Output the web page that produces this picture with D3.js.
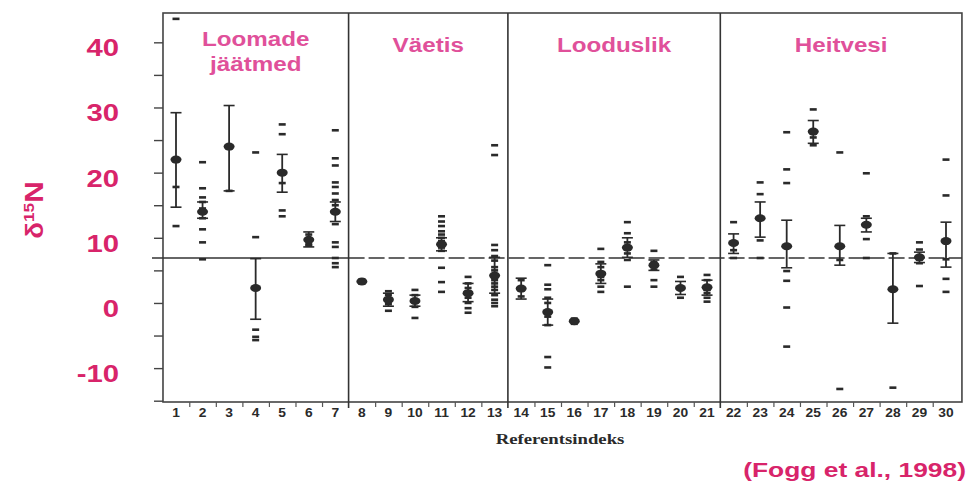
<!DOCTYPE html>
<html>
<head>
<meta charset="utf-8">
<script src="https://cdn.jsdelivr.net/npm/d3@7"></script>
<style>
  body { margin: 0; background: #fff; }
</style>
</head>
<body>
<svg id="chart" width="968" height="481"></svg>
<script>
// reference index 1..30
const indices = d3.range(1, 31);

const groupNames = [["Loomade", "jäätmed"], ["Väetis"], ["Looduslik"], ["Heitvesi"]];
const groupBreaks = [7.5, 13.5, 21.5];

const yTickLabels = [-10, 0, 10, 20, 30, 40];
const refValue = 6.9;

// mean δ15N per index
const means = [22, 14, 24, 2.3, 20, 9.7, 14, 3.3, 0.5, 0.3,
               9, 1.5, 4.2, 2.2, -1.4, -2.8, 4.5, 8.5, 5.8, 2.3,
               2.4, 9.2, 13, 8.7, 26.3, 8.7, 12, 2.1, 7, 9.5];

// error bar ends (null = no bar drawn)
const errLow  = [14.7, 13, 17.2, -2.5, 17, 8.6, 12.5, null, -0.5, -0.5,
                 8, 0.2, 1.5, 0.6, -3.4, null, 3, 7, 5, 1.3,
                 1.2, 7.6, 10.1, 5.4, 24.5, 5.8, 10.9, -3.1, 6.2, 5.5];
const errHigh = [29.2, 15.5, 30.3, 6.8, 22.8, 10.9, 15.5, null, 1.5, 1.2,
                 10, 3, 7, 3.8, 0.6, null, 6, 10, 6.6, 3.3,
                 3.5, 10.6, 15.5, 12.7, 28, 11.9, 13, 7.6, 7.8, 12.4];

// individual measurements per index
const points = [
  [43.6, 17.8, 11.8],
  [21.6, 17.6, 16.2, 15.5, 14.5, 13, 11.3, 9.3, 6.7],
  [17.2],
  [23.1, 10.1, -4.1, -5.2, -5.7],
  [27.4, 25.9, 18.4, 14.2, 13.3],
  [10.5, 9, 8.8],
  [26.5, 22.2, 21.1, 18.5, 17.8, 16.8, 15.8, 15, 12.1, 9.3, 8.6, 6.9, 6.1, 5.5],
  [3.6, 3],
  [1.8, 1.2, -0.2, -1.2],
  [2, 1.2, -0.6, -2.3],
  [13.3, 12.5, 11.8, 11, 10.5, 10, 9.5, 8.5, 8, 5.4, 3.2, 1.7],
  [4, 3, 2.3, 0.8, 0, -0.8, -1.5],
  [24.2, 22.7, 8.9, 8.1, 7.2, 6.5, 5.5, 5, 3.5, 3, 2.5, 2, 1.2, 0.5, 0, -0.5],
  [3.5, 1],
  [5.8, 2.8, 2.1, 0.8, 0, -2.1, -3.4, -8.3, -9.9],
  [-2.4, -3.2],
  [8.3, 6.3, 5.5, 4, 3.5, 2.5, 1.7],
  [12.4, 10.7, 9.3, 7.6, 6.6, 2.5],
  [8, 6.3, 5.1, 3.5, 2.5],
  [4, 0.8],
  [4.3, 3.5, 2, 1.5, 0.8, 0.2],
  [12.4, 8.1, 6.9],
  [18.5, 16.7, 9.6, 6.9],
  [26.2, 20.5, 18.4, 4.9, 3.4, -0.7, -6.7],
  [29.7, 25.4, 24.2],
  [23.1, 6.6, -13.2],
  [19.9, 13.3, 9.8, 6.9],
  [7.6, -13],
  [9.3, 8.2, 6.1, 2.6],
  [22, 16.5, 6.7, 3.7, 1.7]
];

const pink = "#d8246a";
const pinkLight = "#e0509a";
const ink = "#2a2a2a";

const svg = d3.select("#chart");

const x = d3.scaleLinear().domain([1, 30]).range([176, 946]);
const y = d3.scaleLinear().domain([-15.2, 44.5]).range([402, 13]);
const xMin = 0.51, xMax = 30.6;
const plotLeft = x(xMin), plotRight = x(xMax), plotTop = y(44.5), plotBottom = y(-15.2);

function wideText(g, px, py, str, sx) {
    return g.append("text")
        .attr("transform", `translate(${px},${py}) scale(${sx},1)`)
        .text(str);
}

// frame
svg.append("rect")
    .attr("x", plotLeft).attr("y", plotTop)
    .attr("width", plotRight - plotLeft).attr("height", plotBottom - plotTop)
    .attr("fill", "none").attr("stroke", "#444").attr("stroke-width", 1.6);

// y ticks
svg.append("g")
    .attr("transform", `translate(${plotLeft},0)`)
    .call(d3.axisLeft(y).tickValues(d3.range(-15, 45, 5)).tickSize(9).tickFormat(""))
    .call(g => g.select(".domain").remove())
    .selectAll("line").attr("stroke", "#444").attr("stroke-width", 1.4);

// y labels
const yLab = svg.append("g")
    .attr("fill", pink).attr("font-family", "Liberation Sans, Arial, sans-serif")
    .attr("font-weight", "bold").attr("font-size", 24).attr("text-anchor", "end");
yTickLabels.forEach(v => wideText(yLab, 119, y(v) + 14, String(v), 1.22));

// x minor ticks at half indices
const halfTicks = d3.range(1.5, 30, 1).filter(v => !groupBreaks.includes(v));
svg.append("g")
    .attr("transform", `translate(0,${plotBottom})`)
    .call(d3.axisBottom(x).tickValues(halfTicks).tickSize(5).tickFormat(""))
    .call(g => g.select(".domain").remove())
    .selectAll("line").attr("stroke", "#555").attr("stroke-width", 1.2);

// x labels
const xLab = svg.append("g")
    .attr("fill", ink).attr("font-family", "Liberation Sans, Arial, sans-serif")
    .attr("font-weight", "bold").attr("font-size", 12).attr("text-anchor", "middle");
indices.forEach(i => wideText(xLab, x(i), plotBottom + 15, String(i), 1.15));

// group dividers
svg.append("g").selectAll("line")
    .data(groupBreaks)
    .join("line")
    .attr("x1", d => x(d)).attr("x2", d => x(d))
    .attr("y1", plotTop).attr("y2", plotBottom + 6)
    .attr("stroke", "#333").attr("stroke-width", 1.6);

// reference line
svg.append("line")
    .attr("x1", plotLeft - 11).attr("x2", x(groupBreaks[0]))
    .attr("y1", y(refValue)).attr("y2", y(refValue))
    .attr("stroke", "#333").attr("stroke-width", 1.3);
svg.append("line")
    .attr("x1", x(groupBreaks[0])).attr("x2", plotRight)
    .attr("y1", y(refValue)).attr("y2", y(refValue))
    .attr("stroke", "#333").attr("stroke-width", 1.3)
    .attr("stroke-dasharray", "16,4");

// group titles
const spans = [xMin, ...groupBreaks, xMax];
const titles = svg.append("g")
    .attr("fill", pinkLight).attr("font-family", "Liberation Sans, Arial, sans-serif")
    .attr("font-weight", "bold").attr("font-size", 20).attr("text-anchor", "middle");
groupNames.forEach((lines, k) => {
    const cx = x((spans[k] + spans[k + 1]) / 2);
    const base = lines.length > 1 ? 46 : 52;
    lines.forEach((t, j) => wideText(titles, cx, base + j * 25, t, 1.21));
});

// marks
const marks = svg.append("g").attr("fill", ink).attr("stroke", ink);

indices.forEach((idx, k) => {
    const g = marks.append("g");
    const cx = x(idx);

    g.selectAll("rect")
        .data(points[k])
        .join("rect")
        .attr("x", cx - 3.5).attr("y", d => y(d) - 1.3)
        .attr("width", 7).attr("height", 2.6)
        .attr("stroke", "none");

    if (errLow[k] !== null) {
        g.append("line")
            .attr("x1", cx).attr("x2", cx)
            .attr("y1", y(errLow[k])).attr("y2", y(errHigh[k]))
            .attr("stroke-width", 1.8);
        g.selectAll("line.cap")
            .data([errLow[k], errHigh[k]])
            .join("line")
            .classed("cap", true)
            .attr("x1", cx - 5.5).attr("x2", cx + 5.5)
            .attr("y1", d => y(d)).attr("y2", d => y(d))
            .attr("stroke-width", 1.6);
    }

    g.append("ellipse")
        .attr("cx", cx).attr("cy", y(means[k]))
        .attr("rx", 5.5).attr("ry", 4)
        .attr("stroke", "none");
});

// y title
const yTitle = svg.append("text")
    .attr("transform", "translate(43,210) rotate(-90) scale(1.15,1)")
    .attr("fill", pink).attr("font-family", "Liberation Sans, Arial, sans-serif")
    .attr("text-anchor", "middle");
yTitle.append("tspan").attr("font-size", 24).attr("font-weight", "bold").text("δ");
yTitle.append("tspan").attr("font-size", 15).attr("font-weight", "bold").attr("dy", -9).text("15");
yTitle.append("tspan").attr("font-size", 26).attr("font-weight", "bold").attr("dy", 9).text("N");

// x title
wideText(svg, 560, 444, "Referentsindeks", 1.25)
    .attr("fill", ink).attr("font-family", "Liberation Serif, Times New Roman, serif")
    .attr("font-weight", "bold").attr("font-size", 15).attr("text-anchor", "middle");

// source
wideText(svg, 966, 477, "(Fogg et al., 1998)", 1.32)
    .attr("fill", pink).attr("font-family", "Liberation Sans, Arial, sans-serif")
    .attr("font-weight", "bold").attr("font-size", 20).attr("text-anchor", "end");
</script>
</body>
</html>
